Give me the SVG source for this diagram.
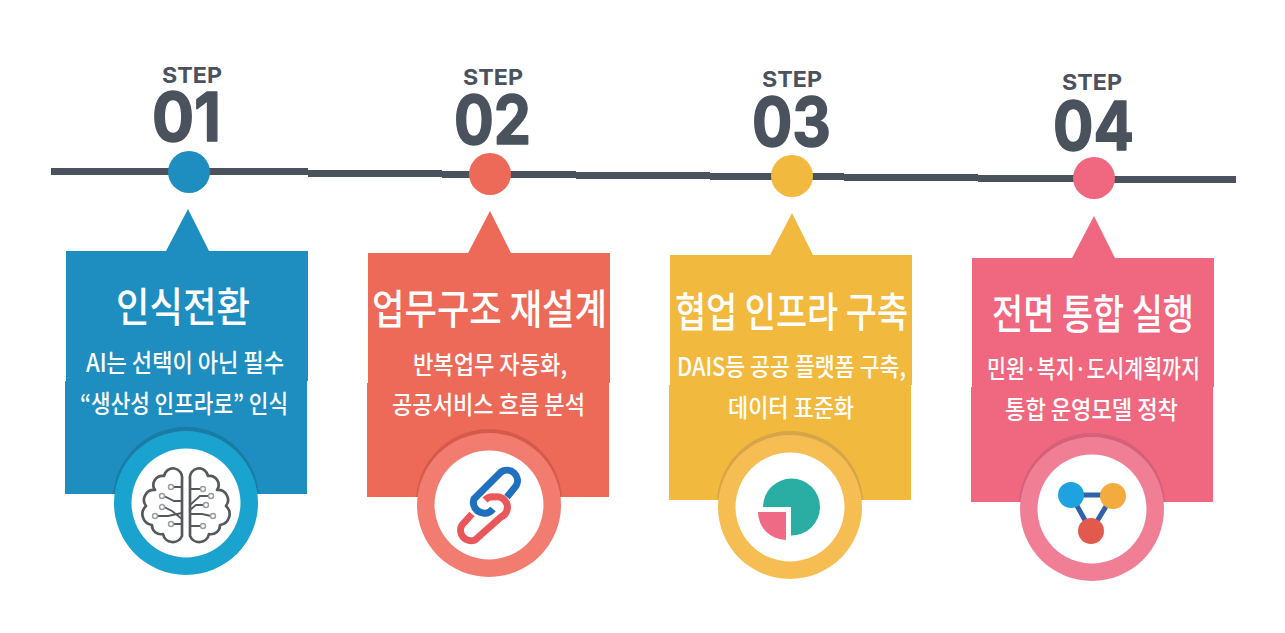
<svg xmlns="http://www.w3.org/2000/svg" width="1285" height="633" viewBox="0 0 1285 633">
<style>
text{font-family:"Noto Sans CJK KR","Noto Sans",sans-serif}
.step{font-family:"Inter","Liberation Sans",sans-serif;font-weight:700;font-size:22px;fill:#4a525d}
.num{font-family:"Inter","Liberation Sans",sans-serif;font-weight:700;font-size:68px;fill:#4a525d;stroke:#4a525d;stroke-width:1.5;stroke-linejoin:round}
.title{font-size:41px;font-weight:500;fill:#fff}
.sub{font-size:25px;font-weight:500;fill:#fff}
.wh{fill:#fff}
.brain{fill:none;stroke:#55595c;stroke-width:2.7;stroke-linejoin:round;stroke-linecap:round}
.wire{fill:none;stroke:#55595c;stroke-width:1.8}
.pin{fill:#fff;stroke:#9a9c9e;stroke-width:1.4}
.link{fill:none;stroke-width:7;stroke-linecap:butt}
.net{stroke:#2f62ac;stroke-width:5}
</style>
<defs>
<clipPath id="c1"><rect x="65" y="251" width="243" height="243"/></clipPath>
<clipPath id="c2"><rect x="367" y="252" width="243" height="245"/></clipPath>
<clipPath id="c3"><rect x="669" y="255" width="243" height="245"/></clipPath>
<clipPath id="c4"><rect x="971" y="258" width="243" height="244"/></clipPath>
</defs>
<g id="connectors" fill="#4a525d">
<rect x="51" y="168" width="257" height="7"/>
<rect x="308" y="170" width="134" height="7"/>
<rect x="442" y="171" width="134" height="7"/>
<rect x="576" y="172" width="134" height="7"/>
<rect x="710" y="173" width="134" height="7"/>
<rect x="844" y="174" width="134" height="7"/>
<rect x="978" y="175" width="134" height="7"/>
<rect x="1112" y="176" width="124" height="7"/>
</g>
<g id="step1">
<text class="step" x="162" y="83" textLength="60" lengthAdjust="spacingAndGlyphs">STEP</text>
<text class="num" x="152" y="141" textLength="69" lengthAdjust="spacingAndGlyphs">01</text>
<circle cx="189" cy="172" r="21" fill="#1e8dbf"/>
<path d="M66 251H166L188 209L209 251H308V381H307V494H65V381H66Z" fill="#1e8dbf"/>
<text class="title" x="116" y="322" textLength="134" lengthAdjust="spacingAndGlyphs">인식전환</text>
<text class="sub" x="86" y="372" textLength="198" lengthAdjust="spacingAndGlyphs">AI는 선택이 아닌 필수</text>
<text class="sub" x="80" y="413" textLength="208" lengthAdjust="spacingAndGlyphs">“생산성 인프라로” 인식</text>
<circle cx="186" cy="500" r="73" fill="#1a7ba6" clip-path="url(#c1)"/>
<circle cx="186" cy="503" r="72" fill="#1aa3cf"/>
<circle cx="186" cy="503" r="54.5" class="wh"/>
<g transform="translate(186 503)">
<path class="brain" d="M4 33V-24A9 9 0 0 1 22 -27A9 9 0 0 1 31 -13A10 10 0 0 1 40 3A11 11 0 0 1 34 22A9 9 0 0 1 23 31A10 10 0 0 1 4 33Z"/>
<path class="brain" d="M-4 33V-24A9 9 0 0 0 -22 -27A9 9 0 0 0 -31 -13A10 10 0 0 0 -40 3A11 11 0 0 0 -34 22A9 9 0 0 0 -23 31A10 10 0 0 0 -4 33Z"/>
<path class="wire" d="M4 -14H15M4 2L14 -7H23M4 7L10 2H18M4 11H16L25 13M4 23H15M-4 -16H-13M-4 -2H-12L-22 -7M-4 16L-14 8L-22 4M-4 10L-18 13H-29M-4 21H-13"/>
<circle class="pin" cx="17" cy="-14" r="2.5"/><circle class="pin" cx="25" cy="-7" r="2.5"/><circle class="pin" cx="20" cy="2" r="2.5"/><circle class="pin" cx="27" cy="13" r="2.5"/><circle class="pin" cx="17" cy="23" r="2.5"/>
<circle class="pin" cx="-15" cy="-16" r="2.5"/><circle class="pin" cx="-24" cy="-7" r="2.5"/><circle class="pin" cx="-24" cy="4" r="2.5"/><circle class="pin" cx="-31" cy="13" r="2.5"/><circle class="pin" cx="-15" cy="21" r="2.5"/>
</g>
</g>
<g id="step2">
<text class="step" x="463" y="85" textLength="60" lengthAdjust="spacingAndGlyphs">STEP</text>
<text class="num" x="454" y="144" textLength="77" lengthAdjust="spacingAndGlyphs">02</text>
<circle cx="490" cy="174" r="21" fill="#ee6a58"/>
<path d="M368 253H468L490 211L511 253H610V383H609V497H367V383H368Z" fill="#ee6a58"/>
<text class="title" x="372" y="324" textLength="235" lengthAdjust="spacingAndGlyphs">업무구조 재설계</text>
<text class="sub" x="413" y="374" textLength="154" lengthAdjust="spacingAndGlyphs">반복업무 자동화,</text>
<text class="sub" x="392" y="414" textLength="193" lengthAdjust="spacingAndGlyphs">공공서비스 흐름 분석</text>
<circle cx="489" cy="502" r="73" fill="#d65a4b" clip-path="url(#c2)"/>
<circle cx="489" cy="505" r="72" fill="#f27c6f"/>
<circle cx="489" cy="505" r="54.5" class="wh"/>
<g transform="translate(489 505)">
<path class="link" stroke="#e9575b" d="M-17 9L-27 20A10.500 10.500 0 0 0 -14 35L12 12A10.500 10.500 0 0 0 6 -8Q0 -9 -4 -5"/>
<path class="link" stroke="#1f71c0" d="M18 -8L27 -19A10.500 10.500 0 0 0 12 -33L-15 -6A10.500 10.500 0 0 0 -6 8Q0 9 4 4"/>
</g>
</g>
<g id="step3">
<text class="step" x="762" y="87" textLength="60" lengthAdjust="spacingAndGlyphs">STEP</text>
<text class="num" x="752" y="146" textLength="79" lengthAdjust="spacingAndGlyphs">03</text>
<circle cx="792" cy="176" r="21" fill="#f2b93f"/>
<path d="M670 255H770L792 213L813 255H912V385H911V500H669V385H670Z" fill="#f2b93f"/>
<text class="title" x="675" y="327" textLength="233" lengthAdjust="spacingAndGlyphs">협업 인프라 구축</text>
<text class="sub" x="677" y="376" textLength="229" lengthAdjust="spacingAndGlyphs">DAIS등 공공 플랫폼 구축,</text>
<text class="sub" x="728" y="417" textLength="126" lengthAdjust="spacingAndGlyphs">데이터 표준화</text>
<circle cx="790" cy="504" r="73" fill="#d5a548" clip-path="url(#c3)"/>
<circle cx="790" cy="507" r="72" fill="#f5bd52"/>
<circle cx="790" cy="507" r="54.5" class="wh"/>
<g transform="translate(790 507)">
<path d="M1 0H-27A28.500 28.500 0 1 1 1 28.500Z" fill="#2aaea4"/>
<path d="M-4 5H-32A28 28 0 0 0 -4 33Z" fill="#ef6b85"/>
</g>
</g>
<g id="step4">
<text class="step" x="1062" y="90" textLength="60" lengthAdjust="spacingAndGlyphs">STEP</text>
<text class="num" x="1053" y="150" textLength="81" lengthAdjust="spacingAndGlyphs">04</text>
<circle cx="1094" cy="178" r="21" fill="#ef6880"/>
<path d="M972 258H1072L1094 216L1115 258H1214V387H1213V502H971V387H972Z" fill="#ef6880"/>
<text class="title" x="992" y="329" textLength="202" lengthAdjust="spacingAndGlyphs">전면 통합 실행</text>
<text class="sub" x="987" y="378" textLength="213" lengthAdjust="spacingAndGlyphs">민원·복지·도시계획까지</text>
<text class="sub" x="1005" y="419" textLength="173" lengthAdjust="spacingAndGlyphs">통합 운영모델 정착</text>
<circle cx="1092" cy="506" r="73" fill="#d4607a" clip-path="url(#c4)"/>
<circle cx="1092" cy="509" r="72" fill="#f07f96"/>
<circle cx="1092" cy="509" r="54.5" class="wh"/>
<g transform="translate(1092 509)">
<path class="net" fill="none" d="M-21 -14H21L-1 22Z"/>
<circle cx="-21" cy="-14" r="13" fill="#1fa3e0"/>
<circle cx="21" cy="-13" r="13" fill="#f2ab3c"/>
<circle cx="-1" cy="22" r="13" fill="#e25a4e"/>
</g>
</g>
</svg>
